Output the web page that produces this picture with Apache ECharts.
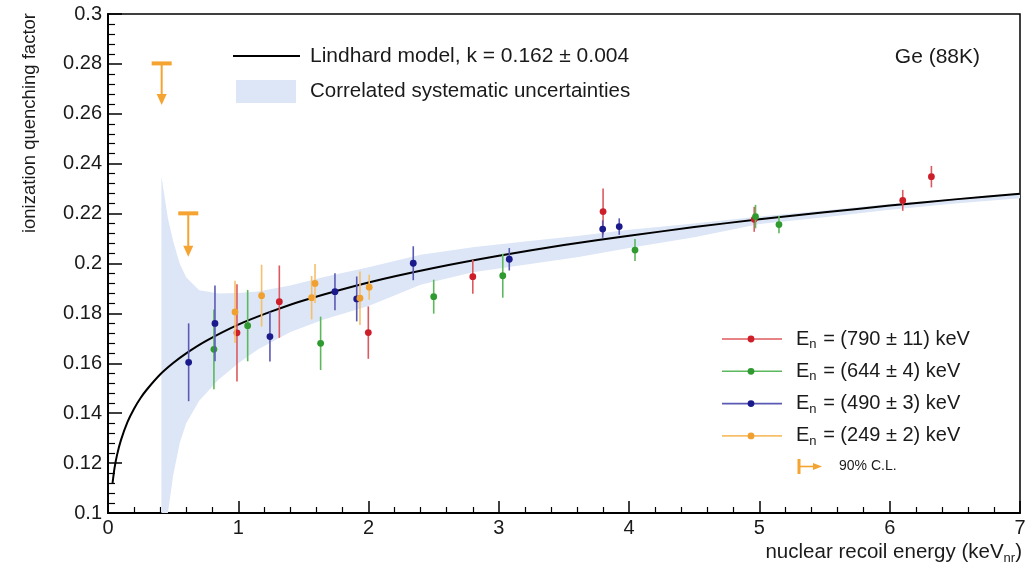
<!DOCTYPE html>
<html>
<head>
<meta charset="utf-8">
<script src="https://cdn.jsdelivr.net/npm/echarts@6/dist/echarts.min.js"></script>
<style>
  html, body { margin: 0; padding: 0; background: #fff; }
  #chart { width: 1035px; height: 568px; }
</style>
</head>
<body>
<div id="chart"></div>
<script>
// axis ticks
const xTicks = [0, 1, 2, 3, 4, 5, 6, 7]
const yTicks = [0.1, 0.12, 0.14, 0.16, 0.18, 0.2, 0.22, 0.24, 0.26, 0.28, 0.3]

// Lindhard model curve, k = 0.162
const modelX = [0.035, 0.05, 0.07, 0.1, 0.15, 0.2, 0.25, 0.3, 0.4, 0.5, 0.6, 0.75, 1, 1.25, 1.5, 2, 2.5, 3, 3.5, 4, 4.5, 5, 5.5, 6, 6.5, 7]
const modelY = [0.112, 0.118, 0.1234, 0.1293, 0.1365, 0.1418, 0.1461, 0.1496, 0.1555, 0.1601, 0.164, 0.1689, 0.1755, 0.1807, 0.1852, 0.1924, 0.1982, 0.2031, 0.2074, 0.2111, 0.2146, 0.2177, 0.2205, 0.2232, 0.2257, 0.228]

// correlated systematic uncertainty band
const bandX = [0.41, 0.46, 0.5, 0.55, 0.6, 0.7, 0.85, 1.0, 1.15, 1.4, 1.65, 2.0, 2.4, 2.8, 3.2, 3.6, 4.0, 4.5, 5.0, 5.5, 6.0, 6.5, 7.0]
const bandLow = [0.1, 0.1, 0.115, 0.128, 0.136, 0.145, 0.1535, 0.16, 0.1655, 0.1725, 0.1775, 0.183, 0.1915, 0.1965, 0.1995, 0.2025, 0.2062, 0.2105, 0.2158, 0.2185, 0.2215, 0.224, 0.2262]
const bandHigh = [0.235, 0.218, 0.209, 0.2, 0.1945, 0.1893, 0.188, 0.1882, 0.1888, 0.1912, 0.1945, 0.1985, 0.2035, 0.2065, 0.2088, 0.211, 0.2135, 0.216, 0.2188, 0.2212, 0.2238, 0.226, 0.2284]

// En = 790 keV
const redX = [0.99, 1.315, 1.998, 2.8, 3.8, 4.96, 6.1, 6.32]
const redY = [0.1722, 0.1847, 0.1723, 0.1947, 0.2208, 0.2177, 0.2253, 0.2348]
const redErr = [0.0195, 0.0145, 0.0105, 0.0068, 0.0093, 0.005, 0.0042, 0.0043]
// En = 644 keV
const greenX = [0.813, 1.072, 1.632, 2.5, 3.03, 4.045, 4.97, 5.15]
const greenY = [0.1656, 0.1751, 0.168, 0.1867, 0.1951, 0.2054, 0.2188, 0.2156]
const greenErr = [0.016, 0.0143, 0.0107, 0.0068, 0.0088, 0.0044, 0.0047, 0.0035]
// En = 490 keV
const blueX = [0.619, 0.821, 1.243, 1.742, 1.909, 2.343, 3.08, 3.797, 3.924]
const blueY = [0.1604, 0.176, 0.1707, 0.1887, 0.1858, 0.2001, 0.2017, 0.2138, 0.2148]
const blueErr = [0.0156, 0.0152, 0.01, 0.0074, 0.009, 0.0068, 0.0045, 0.0035, 0.0033]
// En = 249 keV
const orangeX = [0.975, 1.179, 1.563, 1.589, 1.934, 2.005]
const orangeY = [0.1806, 0.1871, 0.1863, 0.192, 0.1861, 0.1905]
const orangeErr = [0.0125, 0.0124, 0.0087, 0.0078, 0.0107, 0.005]
// 90% C.L. upper limits (x, limit, arrow tip)
const limitX = [0.412, 0.616]
const limitY = [0.2802, 0.2201]
const limitTip = [0.2635, 0.2027]

const legendNames = ['(790 ± 11) keV', '(644 ± 4) keV', '(490 ± 3) keV', '(249 ± 2) keV']

const FONT = '"Liberation Sans", Arial, sans-serif'
const TXT = '#1a1a1a'
const ORANGE = '#f5a331'
const BAND = '#dce6f6'

const groups = [
  { x: redX, y: redY, e: redErr, dot: '#cc1f2a', bar: '#dc5a5f' },
  { x: greenX, y: greenY, e: greenErr, dot: '#2f9a2f', bar: '#5cb85c' },
  { x: blueX, y: blueY, e: blueErr, dot: '#1a1a8c', bar: '#5a5ab4' },
  { x: orangeX, y: orangeY, e: orangeErr, dot: '#f0a030', bar: '#f7bf6a' }
]

// 误差棒 + 数据点
function errorSeries (g) {
  return {
    type: 'custom',
    z: 5,
    data: g.x.map((v, i) => [v, g.y[i], g.e[i]]),
    encode: { x: 0, y: 1 },
    renderItem: (params, api) => {
      const x = api.value(0)
      const y = api.value(1)
      const e = api.value(2)
      const top = api.coord([x, y + e])
      const bot = api.coord([x, y - e])
      const c = api.coord([x, y])
      return {
        type: 'group',
        children: [
          { type: 'line', shape: { x1: top[0], y1: top[1], x2: bot[0], y2: bot[1] }, style: { stroke: g.bar, lineWidth: 1.6 } },
          { type: 'circle', shape: { cx: c[0], cy: c[1], r: 3.4 }, style: { fill: g.dot } }
        ]
      }
    }
  }
}

const chart = echarts.init(document.getElementById('chart'))

// 右下角图例
const legendGraphics = []
groups.forEach((g, i) => {
  const yy = 339 + i * 32.3
  legendGraphics.push(
    { type: 'line', shape: { x1: 722, y1: yy, x2: 782, y2: yy }, style: { stroke: g.bar, lineWidth: 1.6 } },
    { type: 'circle', shape: { cx: 751, cy: yy, r: 3.4 }, style: { fill: g.dot } },
    {
      type: 'text', x: 796, y: yy,
      style: {
        text: '{a|E}{s|n}{a| = ' + legendNames[i] + '}',
        verticalAlign: 'middle',
        rich: {
          a: { fontSize: 20, fontFamily: FONT, fill: TXT },
          s: { fontSize: 13, fontFamily: FONT, fill: TXT, padding: [11, 1, 0, 0] }
        }
      }
    }
  )
})
// 90% C.L. 标记
legendGraphics.push(
  { type: 'line', shape: { x1: 799, y1: 459, x2: 799, y2: 474 }, style: { stroke: ORANGE, lineWidth: 3 } },
  { type: 'line', shape: { x1: 799, y1: 466.5, x2: 814, y2: 466.5 }, style: { stroke: ORANGE, lineWidth: 1.6 } },
  { type: 'polygon', shape: { points: [[813, 463], [822, 466.5], [813, 470]] }, style: { fill: ORANGE } },
  { type: 'text', x: 839, y: 466.5, style: { text: '90% C.L.', fontSize: 14, fontFamily: FONT, fill: TXT, verticalAlign: 'middle' } }
)

const option = {
  animation: false,
  backgroundColor: '#fff',
  grid: { left: 108, right: 15, top: 14, bottom: 55, show: true, borderColor: '#000', borderWidth: 1.5 },
  xAxis: {
    type: 'value',
    min: xTicks[0],
    max: xTicks[xTicks.length - 1],
    interval: 1,
    axisLine: { show: true, lineStyle: { color: '#000', width: 2 } },
    axisTick: { show: true, inside: true, length: 12, lineStyle: { color: '#000', width: 1.5 } },
    minorTick: { show: true, splitNumber: 5, length: 6, lineStyle: { color: '#000', width: 1.2 } },
    splitLine: { show: false },
    axisLabel: { color: TXT, fontSize: 20, fontFamily: FONT, margin: 5 }
  },
  yAxis: {
    type: 'value',
    min: yTicks[0],
    max: yTicks[yTicks.length - 1],
    interval: 0.02,
    axisLine: { show: true, lineStyle: { color: '#000', width: 2 } },
    axisTick: { show: true, inside: true, length: 14, lineStyle: { color: '#000', width: 1.5 } },
    minorTick: { show: true, splitNumber: 5, length: 7, lineStyle: { color: '#000', width: 1.2 } },
    splitLine: { show: false },
    axisLabel: { color: TXT, fontSize: 20, fontFamily: FONT, margin: 6, formatter: v => String(+v.toFixed(2)) }
  },
  series: [
    // 系统误差带
    {
      type: 'custom',
      z: 1,
      silent: true,
      data: bandX.map((v, i) => [v, bandLow[i], bandHigh[i]]),
      encode: { x: 0, y: [1, 2] },
      renderItem: (params, api) => {
        if (params.dataIndex !== 0) return null
        const pts = []
        bandX.forEach((v, i) => pts.push(api.coord([v, bandHigh[i]])))
        for (let i = bandX.length - 1; i >= 0; i--) pts.push(api.coord([bandX[i], bandLow[i]]))
        return { type: 'polygon', shape: { points: pts, smooth: 0 }, style: { fill: BAND } }
      }
    },
    // Lindhard 模型
    {
      type: 'line',
      z: 3,
      data: modelX.map((v, i) => [v, modelY[i]]),
      showSymbol: false,
      smooth: 0.25,
      lineStyle: { color: '#000', width: 2 }
    },
    ...groups.map(errorSeries),
    // 90% C.L. 上限
    {
      type: 'custom',
      z: 6,
      data: limitX.map((v, i) => [v, limitY[i], limitTip[i]]),
      encode: { x: 0, y: [1, 2] },
      renderItem: (params, api) => {
        const p = api.coord([api.value(0), api.value(1)])
        const t = api.coord([api.value(0), api.value(2)])
        return {
          type: 'group',
          children: [
            { type: 'line', shape: { x1: p[0] - 10, y1: p[1], x2: p[0] + 10, y2: p[1] }, style: { stroke: ORANGE, lineWidth: 4 } },
            { type: 'line', shape: { x1: p[0], y1: p[1], x2: p[0], y2: t[1] - 8 }, style: { stroke: ORANGE, lineWidth: 2 } },
            { type: 'polygon', shape: { points: [[p[0] - 5, t[1] - 11], [p[0] + 5, t[1] - 11], [p[0], t[1]]] }, style: { fill: ORANGE } }
          ]
        }
      }
    }
  ],
  graphic: [
    { type: 'line', shape: { x1: 233, y1: 56, x2: 300, y2: 56 }, style: { stroke: '#000', lineWidth: 2 } },
    { type: 'text', x: 310, y: 56, style: { text: 'Lindhard model, k = 0.162 ± 0.004', fontSize: 21, fontFamily: FONT, fill: TXT, verticalAlign: 'middle' } },
    { type: 'rect', shape: { x: 236, y: 80, width: 60, height: 23 }, style: { fill: BAND } },
    { type: 'text', x: 310, y: 91, style: { text: 'Correlated systematic uncertainties', fontSize: 20.5, fontFamily: FONT, fill: TXT, verticalAlign: 'middle' } },
    { type: 'text', x: 980, y: 57, style: { text: 'Ge (88K)', fontSize: 21, fontFamily: FONT, fill: TXT, align: 'right', verticalAlign: 'middle' } },
    {
      type: 'text', x: 30, y: 13, rotation: Math.PI / 2,
      style: { text: 'ionization quenching factor', fontSize: 18.5, fontFamily: FONT, fill: TXT, align: 'right', verticalAlign: 'middle' }
    },
    {
      type: 'text', x: 1022, y: 552,
      style: {
        text: '{a|nuclear recoil energy (keV}{s|nr}{a|)}',
        align: 'right',
        verticalAlign: 'middle',
        rich: {
          a: { fontSize: 20.5, fontFamily: FONT, fill: TXT },
          s: { fontSize: 13, fontFamily: FONT, fill: TXT, padding: [13, 0, 0, 0] }
        }
      }
    },
    ...legendGraphics
  ]
}

chart.setOption(option)
</script>
</body>
</html>
